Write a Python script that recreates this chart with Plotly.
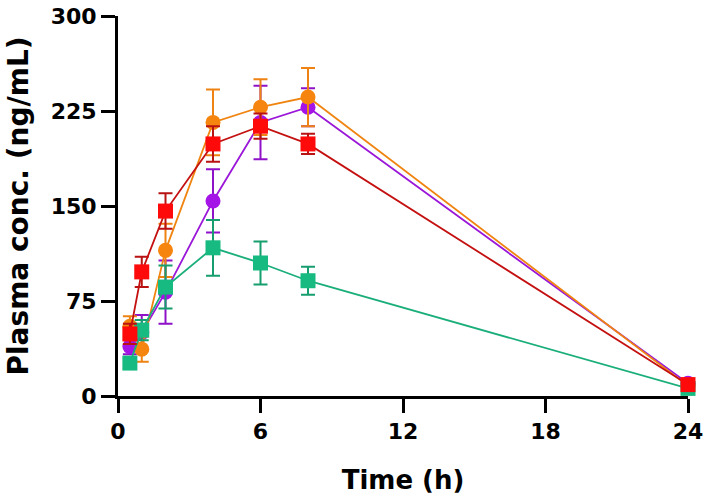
import plotly.graph_objects as go

time_h = [0.5, 1, 2, 4, 6, 8, 24]

purple_mean = [39, 50, 82, 154, 216, 228, 10]
purple_sd = [6, 14, 25, 25, 29, 15, 2]

orange_mean = [55, 37, 115, 216, 228, 236, 8]
orange_sd = [8, 10, 21, 26, 22, 23, 2]

green_mean = [26, 52, 86, 117, 105, 91, 6]
green_sd = [4, 8, 17, 22, 17, 11, 2]

red_mean = [49, 98, 146, 199, 213, 199, 9]
red_sd = [8, 12, 14, 14, 10, 8, 2]

x_ticks = [0, 6, 12, 18, 24]
y_ticks = [0, 75, 150, 225, 300]

series = [
    ("Purple", purple_mean, purple_sd, "circle", "#A414E6", "#9A16D8", "#9012C8"),
    ("Orange", orange_mean, orange_sd, "circle", "#F6850F", "#F08410", "#EE8212"),
    ("Green", green_mean, green_sd, "square", "#17BA80", "#1AAE7A", "#179E6E"),
    ("Red", red_mean, red_sd, "square", "#FF0A0A", "#C41010", "#B81212"),
]

fig = go.Figure()
for name, m, sd, sym, mc, lc, ec in series:
    fig.add_trace(go.Scatter(
        x=time_h, y=m, name=name, mode="lines+markers",
        marker=dict(symbol=sym, size=15, color=mc, line=dict(width=0)),
        line=dict(color=lc, width=1.8),
        error_y=dict(type="data", array=sd, visible=True, color=ec, thickness=2, width=7),
        cliponaxis=False,
    ))

font_family = "DejaVu Sans, sans-serif"
fig.update_layout(
    width=715, height=501,
    margin=dict(l=118, r=27, t=16, b=105),
    plot_bgcolor="white", paper_bgcolor="white",
    showlegend=False,
    font=dict(family=font_family, color="black"),
    xaxis=dict(
        range=[0, 24], tickvals=x_ticks, ticktext=[str(v) for v in x_ticks],
        showgrid=False, zeroline=False, showline=True, linecolor="black", linewidth=3,
        ticks="outside", ticklen=14, tickwidth=3, tickcolor="black",
        tickfont=dict(size=22, family=font_family, weight="bold"),
        ticklabeloverflow="allow",
        title=dict(text="<b>Time (h)</b>", font=dict(size=26, family=font_family), standoff=28),
        automargin=False,
    ),
    yaxis=dict(
        range=[0, 300], tickvals=y_ticks, ticktext=[str(v) for v in y_ticks],
        showgrid=False, zeroline=False, showline=True, linecolor="black", linewidth=3,
        ticks="outside", ticklen=14, tickwidth=3, tickcolor="black",
        tickfont=dict(size=22, family=font_family, weight="bold"),
        ticklabeloverflow="allow",
        title=dict(text="<b>Plasma conc. (ng/mL)</b>", font=dict(size=28, family=font_family), standoff=14),
        automargin=False,
    ),
)

fig.write_html("out.html", config={"displayModeBar": False},
               post_script="document.body.style.margin='0';")
